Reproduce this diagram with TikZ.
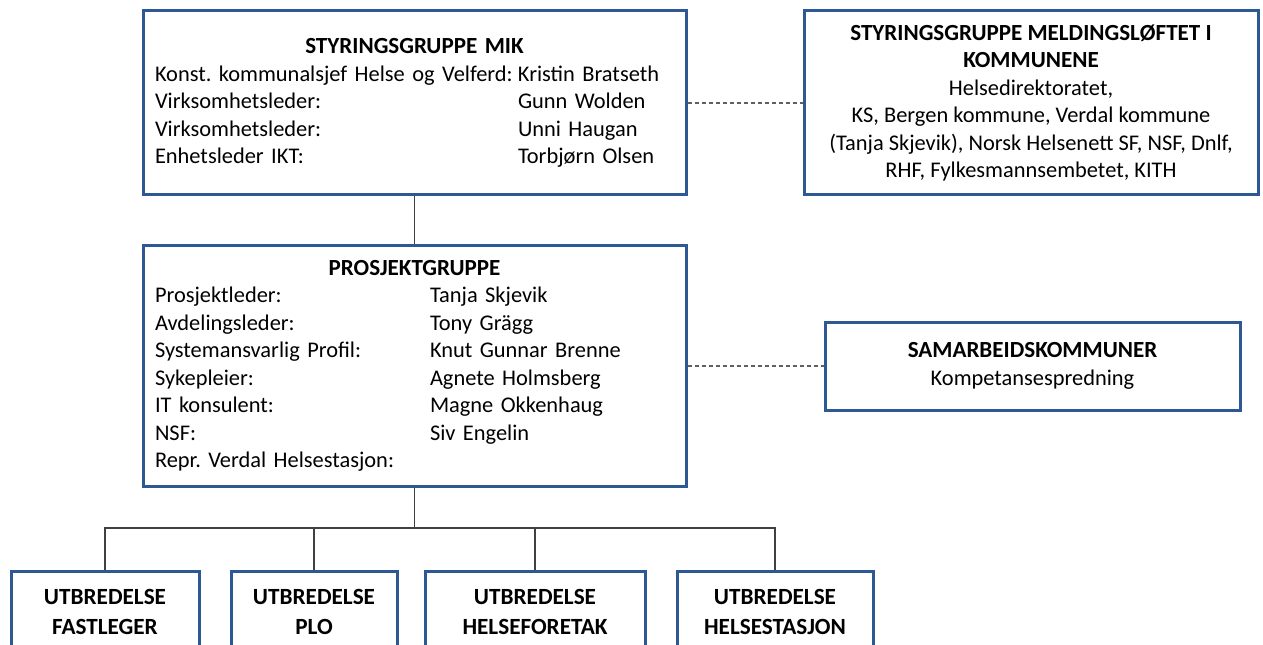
\documentclass[tikz,border=0pt]{standalone}
\usepackage{fontspec}
\setmainfont{Carlito}
\usetikzlibrary{positioning}
\frenchspacing

\newlength{\px}
\setlength{\px}{0.75pt}

\definecolor{boxblue}{HTML}{2E5894}
\definecolor{linegray}{HTML}{404040}
\definecolor{dashgray}{HTML}{606060}

\newcommand{\headtxt}[1]{{\fontsize{17.3}{20.6}\selectfont\bfseries #1}}

\tikzset{
  orgbox/.style={draw=boxblue, line width=3\px, fill=white, inner sep=0pt,
    font=\fontsize{16.8}{20.6}\selectfont},
  leafbox/.style={orgbox, align=center, minimum height=82\px,
    font=\fontsize{17.4}{22.5}\selectfont\bfseries},
  link/.style={draw=linegray, line width=1.5\px},
  dashlink/.style={draw=dashgray, line width=1.5\px, dash pattern=on 4\px off 3\px}
}

\begin{document}
\begin{tikzpicture}[x=\px, y=-\px]
  \clip (0,0) rectangle (1263,645);
  \fill[white] (0,0) rectangle (1263,645);

  % Styringsgruppe MIK
  \node[orgbox, minimum width=543\px, minimum height=184\px, text width=519\px, align=left]
    (mik) at (414.5,103) {%
    \makebox[519\px]{\headtxt{STYRINGSGRUPPE MIK}}\\
    \makebox[363\px][l]{Konst. kommunalsjef Helse og Velferd:}Kristin Bratseth\\
    \makebox[363\px][l]{Virksomhetsleder:}Gunn Wolden\\
    \makebox[363\px][l]{Virksomhetsleder:}Unni Haugan\\
    \makebox[363\px][l]{Enhetsleder IKT:}Torbjørn Olsen};

  % Styringsgruppe meldingsløftet
  \node[orgbox, minimum width=454\px, minimum height=184\px, align=center]
    (meld) at (1031,103) {%
    \headtxt{STYRINGSGRUPPE MELDINGSLØFTET I}\\
    \headtxt{KOMMUNENE}\\
    Helsedirektoratet,\\
    KS, Bergen kommune, Verdal kommune\\
    (Tanja Skjevik), Norsk Helsenett SF, NSF, Dnlf,\\
    RHF, Fylkesmannsembetet, KITH};

  % Prosjektgruppe
  \node[orgbox, minimum width=543\px, minimum height=240\px, text width=519\px, align=left]
    (prosj) at (414.5,366) {%
    \makebox[519\px]{\headtxt{PROSJEKTGRUPPE}}\\
    \makebox[275\px][l]{Prosjektleder:}Tanja Skjevik\\
    \makebox[275\px][l]{Avdelingsleder:}Tony Grägg\\
    \makebox[275\px][l]{Systemansvarlig Profil:}Knut Gunnar Brenne\\
    \makebox[275\px][l]{Sykepleier:}Agnete Holmsberg\\
    \makebox[275\px][l]{IT konsulent:}Magne Okkenhaug\\
    \makebox[275\px][l]{NSF:}Siv Engelin\\
    Repr. Verdal Helsestasjon:};

  % Samarbeidskommuner
  \node[orgbox, minimum width=415\px, minimum height=88\px, align=center]
    (samarb) at (1032.5,366) {%
    \headtxt{SAMARBEIDSKOMMUNER}\\
    Kompetansespredning};

  % Utbredelse
  \node[leafbox, minimum width=188\px] (fast)    at (105,612) {UTBREDELSE\\FASTLEGER};
  \node[leafbox, minimum width=166\px] (plo)     at (314,612) {UTBREDELSE\\PLO};
  \node[leafbox, minimum width=220\px] (helsef)  at (535,612) {UTBREDELSE\\HELSEFORETAK};
  \node[leafbox, minimum width=196\px] (helsest) at (775,612) {UTBREDELSE\\HELSESTASJON};

  % connectors
  \draw[link] (mik.south) -- (prosj.north);
  \draw[dashlink] (mik.east) -- (meld.west);
  \draw[dashlink] (prosj.east) -- (samarb.west);

  \coordinate (bus) at (414.5,528);
  \draw[link] (prosj.south) -- (bus);
  \draw[link] (fast.north) |- (bus) -| (helsest.north);
  \draw[link] (plo.north) -- (plo.north |- bus);
  \draw[link] (helsef.north) -- (helsef.north |- bus);
\end{tikzpicture}
\end{document}
